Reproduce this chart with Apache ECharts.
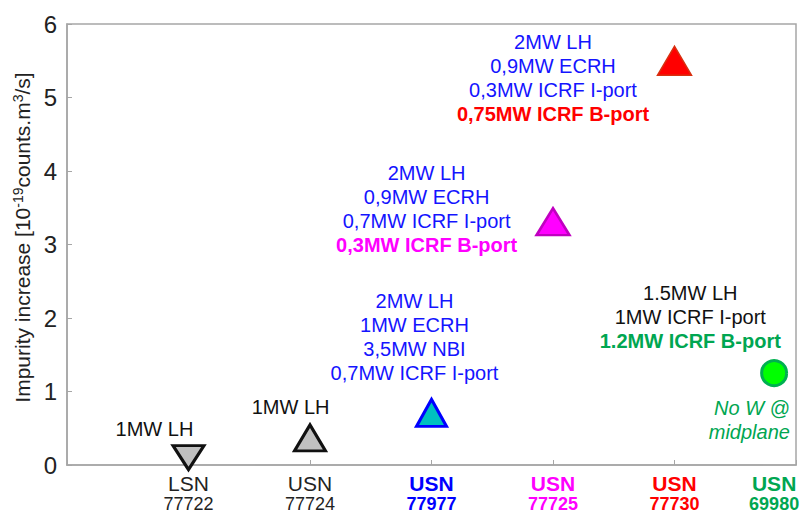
<!DOCTYPE html>
<html>
<head>
<meta charset="utf-8">
<script src="https://cdn.jsdelivr.net/npm/echarts@6/dist/echarts.min.js"></script>
<style>
  html, body { margin: 0; padding: 0; background: #fff; }
  #chart { width: 801px; height: 513px; }
</style>
</head>
<body>
<div id="chart"></div>
<script>
(function() {
  // shots: x position, impurity increase
  var shotNames = ['LSN', 'USN', 'USN', 'USN', 'USN', 'USN'];
  var shotNumbers = ['77722', '77724', '77977', '77725', '77730', '69980'];
  var shotX = [1, 2, 3, 4, 5, 5.82];
  var impurity = [0.1, 0.37, 0.71, 3.31, 5.5, 1.25];
  var yTicks = [0, 1, 2, 3, 4, 5, 6];

  // heating annotations: [x, y] anchors in data units
  var noteAnchors = [[0.72, 0.49], [1.84, 0.79], [2.86, 1.74], [2.96, 3.48], [4.0, 5.27], [5.13, 2.01], [5.95, 0.61]];
  var noteTexts = [
    '{k|1MW LH}',
    '{k|1MW LH}',
    '{b|2MW LH}\n{b|1MW ECRH}\n{b|3,5MW NBI}\n{b|0,7MW ICRF I-port}',
    '{b|2MW LH}\n{b|0,9MW ECRH}\n{b|0,7MW ICRF I-port}\n{m|0,3MW ICRF B-port}',
    '{b|2MW LH}\n{b|0,9MW ECRH}\n{b|0,3MW ICRF I-port}\n{r|0,75MW ICRF B-port}',
    '{k|1.5MW LH}\n{k|1MW ICRF I-port}\n{g|1.2MW ICRF B-port}',
    '{gi|No W @}\n{gi|midplane}'
  ];

  var font = '"Liberation Sans", Arial, sans-serif';
  var grey = '#a6a6a6';

  var markers = [
    { symbol: 'triangle', rotate: 180, fill: '#c0c0c0', border: '#111', bw: 3, size: [31, 24] },
    { symbol: 'triangle', rotate: 0, fill: '#c0c0c0', border: '#111', bw: 3, size: [31, 26] },
    { symbol: 'triangle', rotate: 0, fill: '#00c0c0', border: '#0000ff', bw: 3, size: [30, 27] },
    { symbol: 'triangle', rotate: 0, fill: '#ff00ff', border: '#c000c0', bw: 2.5, size: [33, 27] },
    { symbol: 'triangle', rotate: 0, fill: '#ff0000', border: '#d83010', bw: 1.5, size: [34, 29] },
    { symbol: 'circle', rotate: 0, fill: '#00ff00', border: '#00b050', bw: 3, size: 25 }
  ];
  var labelColors = ['#222', '#222', '#0000ff', '#ff00ff', '#ff0000', '#00a651'];

  var pointData = impurity.map(function(v, i) {
    var m = markers[i];
    return {
      value: [shotX[i], v],
      symbol: m.symbol,
      symbolRotate: m.rotate,
      symbolSize: m.size,
      itemStyle: { color: m.fill, borderColor: m.border, borderWidth: m.bw, opacity: 1 }
    };
  });

  var axisLabelData = shotNames.map(function(n, i) {
    var bold = i >= 2;
    return {
      value: [shotX[i], 0],
      label: {
        formatter: '{a|' + n + '}\n{n|' + shotNumbers[i] + '}',
        rich: {
          a: { fontFamily: font, fontSize: 21, color: labelColors[i], fontWeight: bold ? 'bold' : 'normal', lineHeight: 21, align: 'center' },
          n: { fontFamily: font, fontSize: 18, color: labelColors[i], fontWeight: bold ? 'bold' : 'normal', lineHeight: 20, align: 'center' }
        }
      }
    };
  });

  var noteData = noteAnchors.map(function(p, i) {
    return { value: p, label: { formatter: noteTexts[i], align: i === 6 ? 'right' : 'center' } };
  });

  var chart = echarts.init(document.getElementById('chart'), null, { renderer: 'svg' });
  chart.setOption({
    animation: false,
    grid: { left: 67, right: 5, top: 24, bottom: 48, show: true, borderColor: grey, borderWidth: 1.5 },
    xAxis: {
      type: 'value',
      min: 0, max: 6, interval: 1,
      axisLine: { lineStyle: { color: grey, width: 1.5 } },
      axisTick: { inside: true, length: 5, lineStyle: { color: grey } },
      axisLabel: { show: false },
      splitLine: { show: false }
    },
    yAxis: {
      type: 'value',
      min: yTicks[0], max: yTicks[yTicks.length - 1], interval: 1,
      axisLine: { show: true, lineStyle: { color: grey, width: 1.5 } },
      axisTick: { show: true, inside: true, length: 5, lineStyle: { color: grey } },
      axisLabel: { color: '#222', fontSize: 24, fontFamily: font, margin: 10 },
      splitLine: { show: false },
      name: 'Impurity increase [10{s|-19}counts.m{s|3}/s]',
      nameLocation: 'middle',
      nameRotate: 90,
      nameGap: 32,
      nameTextStyle: {
        color: '#222', fontSize: 21, fontFamily: font, padding: [0, 0, 0, 14],
        rich: {
          s: { fontSize: 14, fontFamily: font, color: '#222', verticalAlign: 'top', padding: [0, 0, 9, 0] }
        }
      }
    },
    series: [
      {
        name: 'notes',
        type: 'scatter',
        symbolSize: 0,
        clip: false,
        silent: true,
        itemStyle: { opacity: 1 },
        data: noteData,
        label: {
          show: true,
          position: 'inside',
          verticalAlign: 'middle',
          fontFamily: font,
          rich: {
            k: { fontFamily: font, fontSize: 20, color: '#111', lineHeight: 24 },
            b: { fontFamily: font, fontSize: 20, color: '#1414ff', lineHeight: 24 },
            m: { fontFamily: font, fontSize: 20, color: '#ff00ff', fontWeight: 'bold', lineHeight: 24 },
            r: { fontFamily: font, fontSize: 20, color: '#ff0000', fontWeight: 'bold', lineHeight: 24 },
            g: { fontFamily: font, fontSize: 20, color: '#00a651', fontWeight: 'bold', lineHeight: 24 },
            gi: { fontFamily: font, fontSize: 20, color: '#00a651', fontStyle: 'italic', lineHeight: 24 }
          }
        }
      },
      {
        name: 'categories',
        type: 'scatter',
        symbolSize: 0,
        clip: false,
        silent: true,
        itemStyle: { opacity: 1 },
        data: axisLabelData,
        label: { show: true, position: 'bottom', distance: 8, align: 'center' }
      },
      {
        name: 'impurity',
        type: 'scatter',
        clip: false,
        itemStyle: { opacity: 1 },
        data: pointData
      }
    ]
  });
})();
</script>
</body>
</html>
